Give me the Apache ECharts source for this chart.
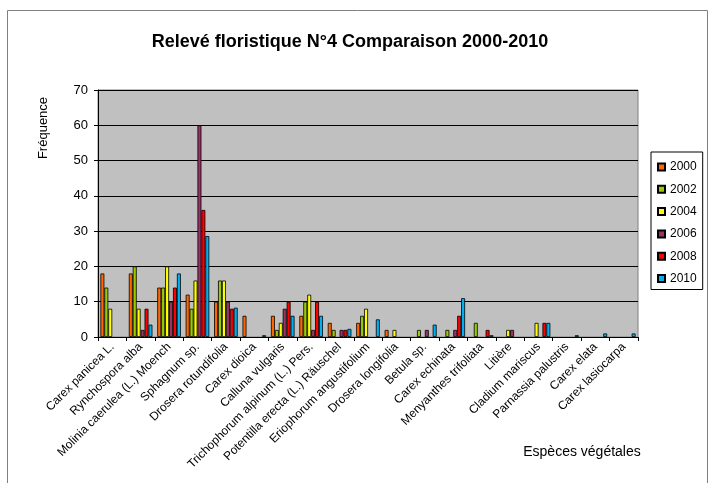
<!DOCTYPE html>
<html>
<head>
<meta charset="utf-8">
<script src="https://cdn.jsdelivr.net/npm/echarts@6/dist/echarts.min.js"></script>
<style>
  html, body { margin: 0; padding: 0; background: #fff; }
  #chart { width: 710px; height: 483px; }
</style>
</head>
<body>
<div id="chart"></div>
<script>
// species on the x axis
const species = [
  "Carex panicea L.", "Rynchospora alba", "Molinia caerulea (L.) Moench",
  "Sphagnum sp.", "Drosera rotundifolia", "Carex dioica", "Calluna vulgaris",
  "Trichophorum alpinum (L.) Pers.", "Potentilla erecta (L.) Räuschel",
  "Eriophorum angustifolium", "Drosera longifolia", "Betula sp.",
  "Carex echinata", "Menyanthes trifoliata", "Litière", "Cladium mariscus",
  "Parnassia palustris", "Carex elata", "Carex lasiocarpa"
];
const years = ["2000", "2002", "2004", "2006", "2008", "2010"];

// values
const y2000 = [18, 18, 14, 12, 10, 6, 6, 6, 4, 4, 2, 0, 0, 0, 0, 0, 0, 0, 0];
const y2002 = [14, 20, 14, 8, 16, 0, 2, 10, 2, 6, 0, 2, 2, 4, 0, 0, 0, 0, 0];
const y2004 = [8, 8, 20, 16, 16, 0, 4, 12, 0, 8, 2, 0, 0, 0, 2, 4, 0, 0, 0];
const y2006 = [0, 2, 10, 60, 10, 0, 8, 2, 2, 0, 0, 2, 2, 0, 2, 0, 0, 0, 0];
const y2008 = [0, 8, 14, 36, 8, 0, 10, 10, 2, 0, 0, 0, 6, 2, 0, 4, 0, 0, 0];
const y2010 = [0, 3.5, 18, 28.6, 8.3, 0.5, 6, 6, 2.3, 5, 0, 3.5, 11, 0.5, 0, 4, 0.5, 1, 1];

const colors = ["#FF6600", "#99CC00", "#FFFF00", "#993366", "#FF0000", "#00B0F0"];
const allData = [y2000, y2002, y2004, y2006, y2008, y2010];

const font = "Liberation Sans, Arial, sans-serif";

const chart = echarts.init(document.getElementById("chart"));

const series = years.map((y, i) => ({
  name: y,
  type: "bar",
  data: allData[i].map((v) => (v === 0 ? null : v)),
  barGap: "0%",
  barCategoryGap: "17%",
  itemStyle: { color: colors[i], borderColor: "#000", borderWidth: 0.8 },
  emphasis: { disabled: true },
}));

chart.setOption({
  animation: false,
  textStyle: { fontFamily: font },
  title: {
    text: "Relevé floristique N°4 Comparaison 2000-2010",
    left: 345,
    top: 28,
    textAlign: "center",
    textStyle: { fontFamily: font, fontSize: 18, fontWeight: "bold", color: "#000" },
  },
  graphic: [
    {
      type: "rect",
      shape: { x: 7.5, y: 10.5, width: 700, height: 480 },
      style: { fill: "none", stroke: "#808080", lineWidth: 1 },
      silent: true,
    },
    {
      type: "text",
      x: 43,
      y: 128,
      rotation: Math.PI / 2,
      style: {
        text: "Fréquence",
        font: "13px " + font,
        fill: "#000",
        textAlign: "center",
        textVerticalAlign: "middle",
      },
    },
    {
      type: "text",
      x: 582,
      y: 452,
      style: {
        text: "Espèces végétales",
        font: "14px " + font,
        fill: "#000",
        textAlign: "center",
        textVerticalAlign: "middle",
      },
    },
  ],
  legend: {
    orient: "vertical",
    left: 651,
    top: 152,
    width: 51,
    padding: [9, 6, 5, 6],
    itemWidth: 7,
    itemHeight: 7,
    itemGap: 10.3,
    icon: "rect",
    borderColor: "#000",
    borderWidth: 1,
    backgroundColor: "#fff",
    textStyle: { fontFamily: font, fontSize: 12, color: "#000" },
    data: years,
  },
  grid: {
    left: 98,
    top: 90,
    right: 72,
    bottom: 146,
    show: true,
    backgroundColor: "#C0C0C0",
    borderColor: "#808080",
    borderWidth: 1,
  },
  xAxis: {
    type: "category",
    data: species,
    axisLine: { lineStyle: { color: "#000", width: 1 } },
    axisTick: { show: true, length: 4, lineStyle: { color: "#000" } },
    axisLabel: {
      rotate: 45,
      interval: 0,
      fontSize: 12,
      color: "#000",
      margin: 8,
      fontFamily: font,
    },
  },
  yAxis: {
    type: "value",
    min: 0,
    max: 70,
    interval: 10,
    axisLine: { show: true, lineStyle: { color: "#000", width: 1 } },
    axisTick: { show: true, length: 4, lineStyle: { color: "#000" } },
    axisLabel: { fontSize: 13, color: "#000", margin: 10, fontFamily: font },
    splitLine: { show: true, lineStyle: { color: "#000", width: 1 } },
  },
  series: series,
});
</script>
</body>
</html>
